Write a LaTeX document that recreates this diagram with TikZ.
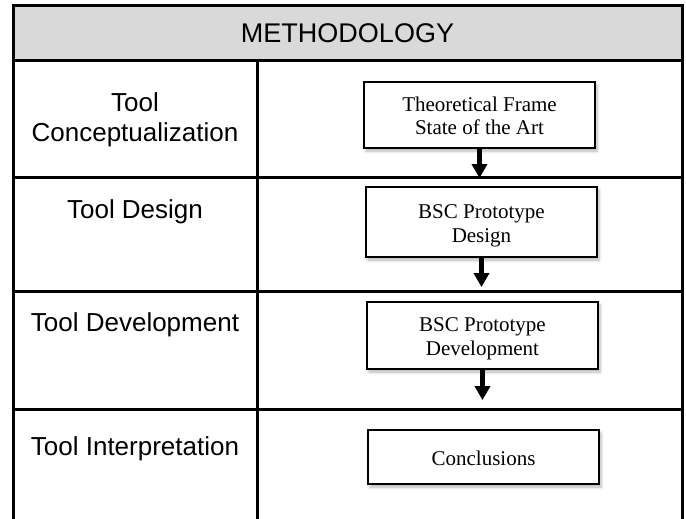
\documentclass[tikz,border=0pt]{standalone}
\usepackage{fontspec}
\setmainfont{Liberation Serif}
\newfontfamily\sansf{Liberation Sans}
\usetikzlibrary{arrows.meta,shadows.blur}
\definecolor{hdrgray}{HTML}{D9D9D9}

\tikzset{
  tbl/.style={line width=3pt, line cap=rect},
  hdr/.style={font=\sansf\fontsize{27}{31}\selectfont, inner sep=0pt},
  phase/.style={font=\sansf\fontsize{26}{30}\selectfont, align=center, inner sep=0pt, anchor=base},
  stepbox/.style={draw, line width=1.8pt, fill=white, align=center,
    minimum width=231pt, inner sep=0pt, text height=40pt, text depth=0pt,
    font=\fontsize{21}{24}\selectfont,
    blur shadow={shadow xshift=2pt, shadow yshift=-3pt, shadow blur steps=6, shadow blur radius=3pt, shadow opacity=30}},
  flow/.style={line width=5pt, -{Triangle[width=15pt,length=14pt]}}
}

\begin{document}
\begin{tikzpicture}[x=1pt,y=-1pt]
\useasboundingbox (0,0) rectangle (686,519);

% header band and table grid
\fill[hdrgray] (13,6) rectangle (682,61);
\draw[tbl] (13,519) -- (13,6) -- (682,6) -- (682,519);
\draw[tbl] (13,61) -- (682,61);
\draw[tbl] (13,177) -- (682,177);
\draw[tbl] (13,291) -- (682,291);
\draw[tbl] (13,409) -- (682,409);
\draw[tbl] (257,61) -- (257,519);

\node[hdr] (title) at (347.5,33.5) {METHODOLOGY};

% phase labels (left column), anchored at the last baseline
\node[phase] (p1) at (135,142) {Tool\\Conceptualization};
\node[phase] (p2) at (135,218) {Tool Design};
\node[phase] (p3) at (135,331) {Tool Development};
\node[phase] (p4) at (135,455) {Tool Interpretation};

% process boxes (right column)
\node[stepbox, minimum height=66pt] (b1) at (479.5,115) {Theoretical Frame\\State of the Art};
\node[stepbox, minimum height=70pt] (b2) at (481.5,222) {BSC Prototype\\Design};
\node[stepbox, minimum height=67pt] (b3) at (482.5,335.5) {BSC Prototype\\Development};
\node[stepbox, minimum height=54pt, text height=16pt] (b4) at (483.5,457) {Conclusions};

% flow arrows
\draw[flow, shorten >=8pt] (b1.south) -- (b1.south |- b2.north);
\draw[flow, shorten >=14pt] (b2.south) -- (b2.south |- b3.north);
\draw[flow, shorten >=29pt] (b3.south) -- (b3.south |- b4.north);
\end{tikzpicture}
\end{document}
